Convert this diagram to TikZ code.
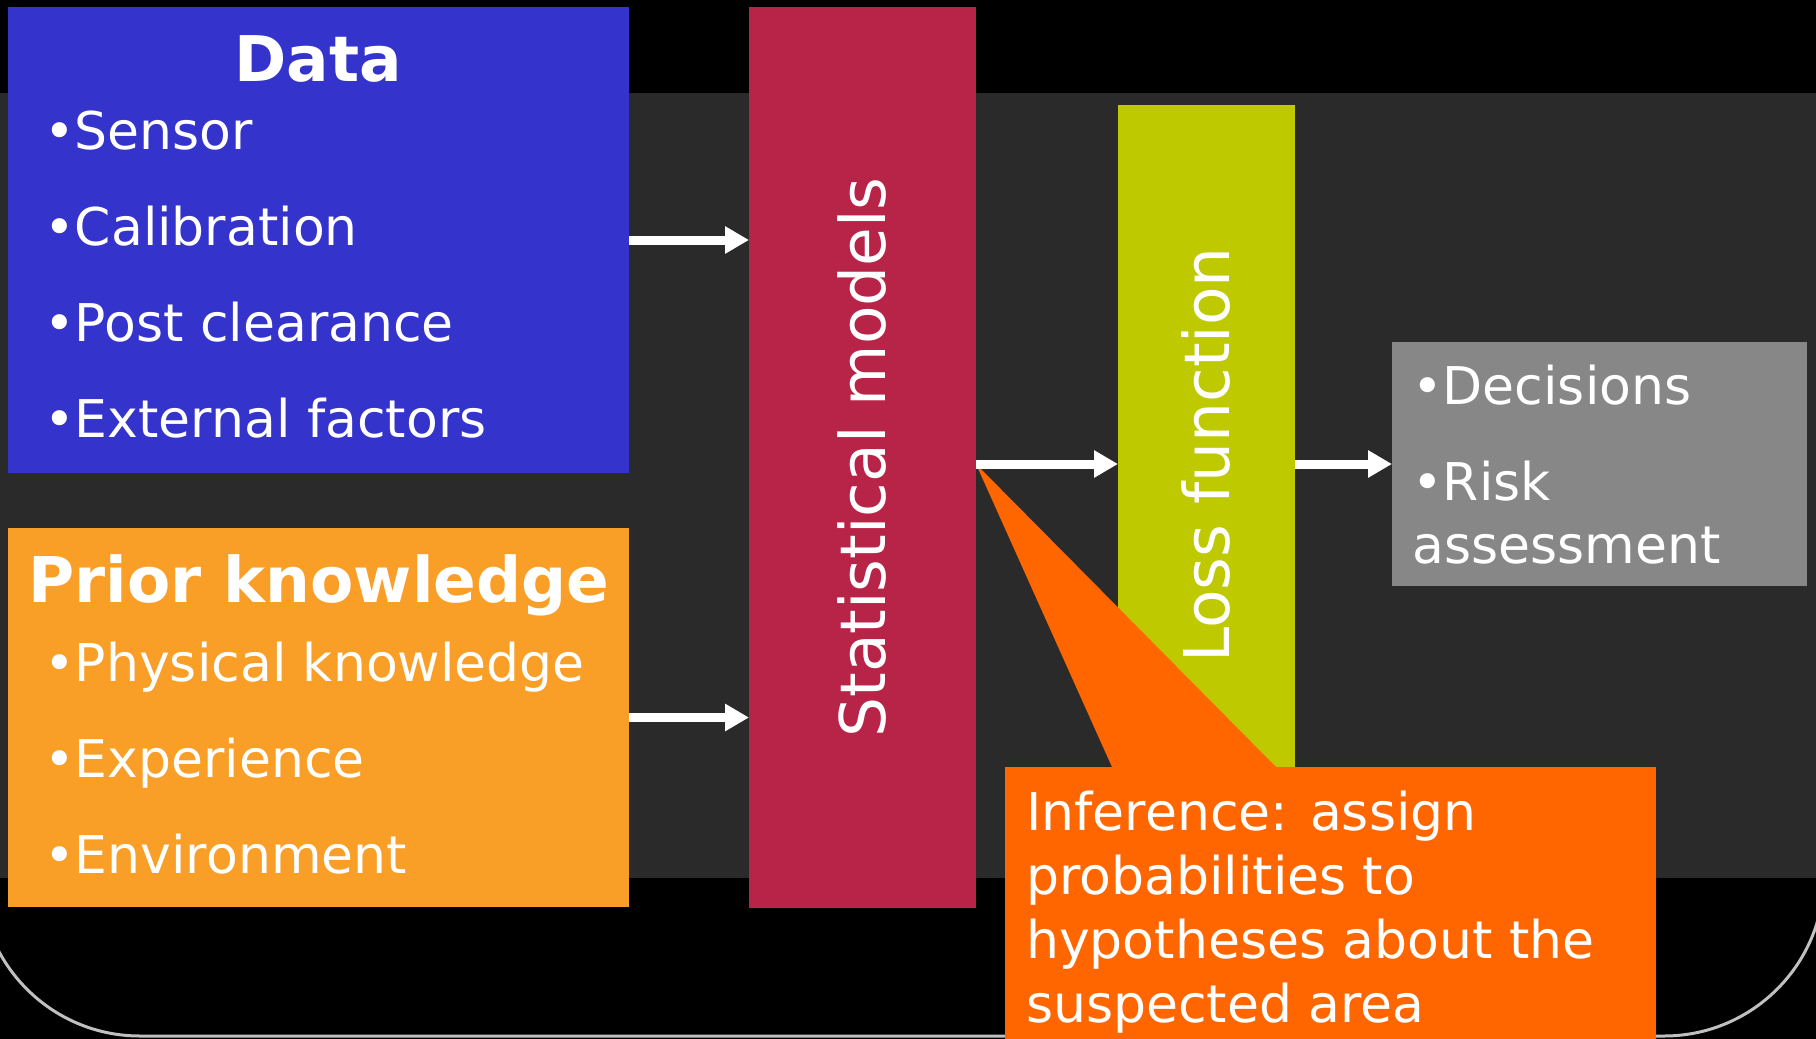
\documentclass[tikz,border=0pt]{standalone}
\usepackage{fontspec}
\setmainfont{DejaVu Sans}
\usetikzlibrary{arrows.meta}

\definecolor{bgdark}{HTML}{2A2A2A}
\definecolor{framegray}{HTML}{C0C0C0}
\definecolor{datablue}{HTML}{3434CC}
\definecolor{priororange}{HTML}{F99E26}
\definecolor{statred}{HTML}{B82448}
\definecolor{losslime}{HTML}{BFC900}
\definecolor{decgray}{HTML}{878787}
\definecolor{inforange}{HTML}{FF6600}

\begin{document}
\begin{tikzpicture}[x=1pt, y=-1pt,
    box/.style={anchor=north west, inner sep=0pt, outer sep=0pt},
    flow/.style={white, line width=9pt, -{Triangle[length=24pt, width=26pt]}},
    heading/.style={white, anchor=base, inner sep=0pt, font=\fontsize{63}{76}\selectfont\bfseries},
    bullets/.style={white, anchor=base west, inner sep=0pt, align=left, font=\fontsize{52}{63}\selectfont},
    vlabel/.style={white, rotate=90, inner sep=0pt, font=\fontsize{63}{76}\selectfont}]
        \useasboundingbox (0,0) rectangle (1816,1039);
        \clip (0,0) rectangle (1816,1039);

        % Фон
        \fill[black] (0,0) rectangle (1816,1039);
        \fill[bgdark] (0,93) rectangle (1816,878);
        \draw[framegray, line width=3pt, rounded corners=160pt] (-20,-300) rectangle (1824,1036);

        % Блоки
        \node[box, fill=datablue, minimum width=621pt, minimum height=466pt] (data) at (8,7) {};
        \node[box, fill=priororange, minimum width=621pt, minimum height=379pt] (prior) at (8,528) {};
        \node[box, fill=statred, minimum width=227pt, minimum height=901pt] (stat) at (749,7) {};
        \node[box, fill=losslime, minimum width=177pt, minimum height=700pt] (loss) at (1118,105) {};
        \node[box, fill=decgray, minimum width=415pt, minimum height=244pt] (dec) at (1392,342) {};

        % Выноска
        \fill[inforange] (stat.east |- dec.west) -- (1112,767) -- (1276,767) -- cycle;
        \node[box, fill=inforange, minimum width=651pt, minimum height=300pt] (infer) at (1005,767) {};

        % Стрелки
        \draw[flow] (data.east) -- (data.east -| stat.west);
        \draw[flow] (prior.east) -- (prior.east -| stat.west);
        \draw[flow] (stat.east |- dec.west) -- (loss.west |- dec.west);
        \draw[flow] (loss.east |- dec.west) -- (dec.west);

        % Подписи (base = последняя строка)
        \node[heading] (datahead) at (318,81) {Data};
        \node[bullets] (datalist) at (44,437) {•Sensor\\[33pt]•Calibration\\[33pt]•Post clearance\\[33pt]•External factors};
        \node[heading] (priorhead) at (319,602) {Prior knowledge};
        \node[bullets] (priorlist) at (44,873) {•Physical knowledge\\[33pt]•Experience\\[33pt]•Environment};
        \node[vlabel] (statlabel) at (stat.center) {Statistical models};
        \node[vlabel] (losslabel) at (loss.center) {Loss function};
        \node[bullets] (declist) at (1412,563) {•Decisions\\[33pt]•Risk\\assessment};
        \node[bullets, font=\fontsize{52}{64}\selectfont] (inferlabel) at (1026,1022) {Inference: assign\\probabilities to\\hypotheses about the\\suspected area};
    \end{tikzpicture}
\end{document}
